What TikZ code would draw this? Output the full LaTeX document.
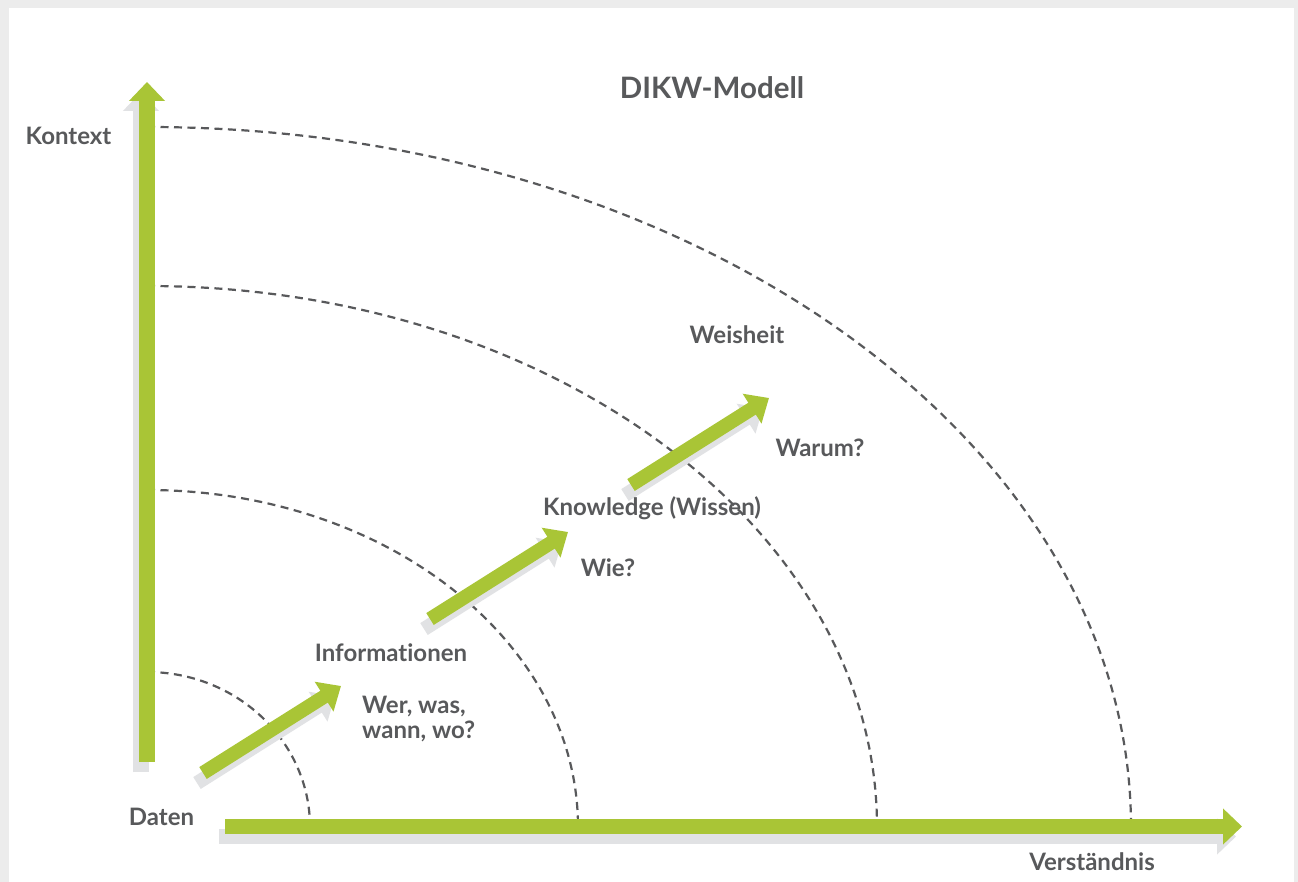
\documentclass[tikz,border=0pt]{standalone}
\usepackage{fontspec}
\setmainfont{Lato}[Ligatures=NoCommon]
\usetikzlibrary{arrows.meta}
\definecolor{dikwgreen}{HTML}{A9C536}
\definecolor{dikwshadow}{HTML}{E1E2E4}
\definecolor{dikwtext}{HTML}{58595B}
\definecolor{dikwframe}{HTML}{ECECEC}
\begin{document}
\begin{tikzpicture}[
		x=1pt, y=-1pt,
		axisarrow/.style={line width=15.5pt, -{Triangle[width=35pt, length=19pt]}},
		steparrow/.style={line width=14pt, -{Triangle[width=34pt, length=20pt]}},
		shadowed/.style={dikwshadow, transform canvas={shift={(-6,10)}}},
		ring/.style={dikwtext, line width=2.2pt, dash pattern=on 8pt off 5.5pt},
		lbl/.style={text=dikwtext, inner sep=0pt, font=\bfseries\fontsize{24}{24.5}\selectfont},
	]
	\path[use as bounding box] (0,0) rectangle (1298,882);
	\fill[dikwframe] (0,0) rectangle (1298,882);
	\fill[white] (9,8) rectangle (1294,882);

	\coordinate (origin) at (147,827);
	\coordinate (ctxbot) at (147,762);
	\coordinate (ctxtop) at (147,82);
	\coordinate (undleft) at (225,826.5);
	\coordinate (undright) at (1242,826.5);
	\coordinate (s1) at (203,773); \coordinate (e1) at (341,686);
	\coordinate (s2) at (430,619); \coordinate (e2) at (568,532);
	\coordinate (s3) at (631,485); \coordinate (e3) at (769,398);

	% dashed rings around the origin
	\foreach \rx/\ry in {163/155, 431/337, 730/541, 984/700}
		\draw[ring] (origin) ++(0,-\ry) arc[start angle=-90, end angle=0, x radius=\rx, y radius=\ry];

	% axes
	\draw[axisarrow, shadowed] (ctxbot) -- (ctxtop);
	\draw[axisarrow, shadowed] (undleft) -- (undright);
	\draw[axisarrow, dikwgreen] (ctxbot) -- (ctxtop);
	\draw[axisarrow, dikwgreen] (undleft) -- (undright);

	% steps
	\foreach \i in {1,2,3} {
		\draw[steparrow, shadowed] (s\i) -- (e\i);
		\draw[steparrow, dikwgreen] (s\i) -- (e\i);
	}

	\node[lbl, anchor=base, font=\bfseries\fontsize{29.5}{30}\selectfont] (title) at (712,99) {DIKW-Modell};
	\node[lbl, anchor=base] (kontext) at (68.5,145) {Kontext};
	\node[lbl, anchor=base] (daten) at (161.5,825) {Daten};
	\node[lbl, anchor=base] (verst) at (1092,870) {Verständnis};
	\node[lbl, anchor=base] (info) at (391,661) {Informationen};
	\node[lbl, anchor=north west, align=left] (wer) at (362,696) {Wer, was,\\wann, wo?};
	\node[lbl, anchor=base] (wissen) at (652,515) {Knowledge (Wissen)};
	\node[lbl, anchor=base] (wie) at (608,576) {Wie?};
	\node[lbl, anchor=base] (weisheit) at (737,344) {Weisheit};
	\node[lbl, anchor=base] (warum) at (820,456) {Warum?};
\end{tikzpicture}
\end{document}
